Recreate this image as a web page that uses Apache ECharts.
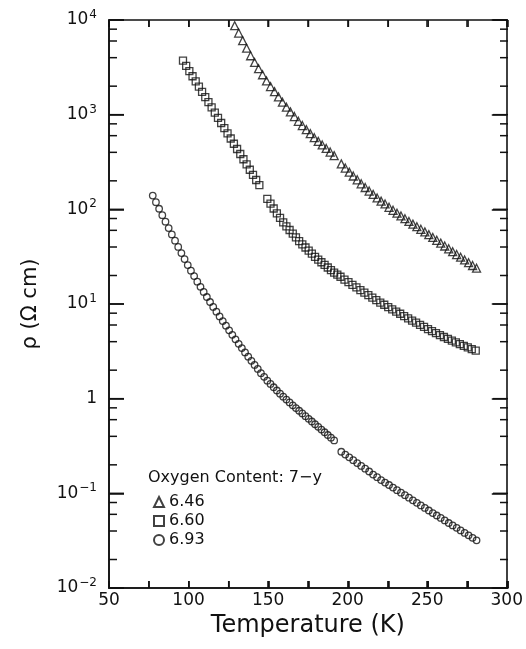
<!DOCTYPE html>
<html><head><meta charset="utf-8">
<script src="https://cdn.jsdelivr.net/npm/echarts@6/dist/echarts.min.js"></script>
<style>html,body{margin:0;padding:0;background:#fff}#c{width:526px;height:649px}</style>
</head><body><div id="c"></div>
<script>
const FONT = 'DejaVu Sans';
const INK = '#111';

// x-axis range and y-axis range
const X_MIN = 50, X_MAX = 300;
const Y_MIN = 0.01, Y_MAX = 10000;

// Oxygen content 6.46 (triangles)
const temp646 = [129, 131.5, 134, 136.5, 139, 141.5, 144, 146.5, 149, 151.5, 154, 156.5, 159, 161.5, 164, 166.5, 169, 171.5, 174, 176.5, 179, 181.5, 184, 186.5, 189, 191.5,
  196, 198.5, 201, 203.5, 206, 208.5, 211, 213.5, 216, 218.5, 221, 223.5, 226, 228.5, 231, 233.5, 236, 238.5, 241, 243.5, 246, 248.5, 251, 253.5, 256, 258.5, 261, 263.5, 266, 268.5, 271, 273.5, 276, 278.5, 281];
const rho646 = [8710, 7280, 6050, 5040, 4190, 3560, 3060, 2640, 2270, 1980, 1750, 1540, 1355, 1200, 1070, 955, 851, 767, 695, 631, 571, 522, 479, 440, 403, 369,
  302, 273, 247, 225, 205, 186, 170, 156, 144, 132, 122, 114, 105, 97.7, 91.0, 85.1, 79.6, 74.5, 69.8, 65.6, 61.5, 57.8, 54.1, 50.5, 47.1, 44.0, 41.0, 38.3, 35.7, 33.3, 31.2, 29.2, 27.3, 25.5, 23.9];

// Oxygen content 6.60 (squares)
const temp660 = [96.5, 98.5, 100.5, 102.5, 104.5, 106.5, 108.5, 110.5, 112.5, 114.5, 116.5, 118.5, 120.5, 122.5, 124.5, 126.5, 128.5, 130.5, 132.5, 134.5, 136.5, 138.5, 140.5, 142.5, 144.5,
  149.5, 151.5, 153.5, 155.5, 157.5, 159.5, 161.5, 163.5, 165.5, 167.5, 169.5, 171.5, 173.5, 175.5, 177.5, 179.5, 181.5, 183.5, 185.5, 187.5, 189.5, 191.5, 193.5, 195.5,
  198, 200.5, 203, 205.5, 208, 210.5, 213, 215.5, 218, 220.5, 223, 225.5, 228, 230.5, 233, 235.5, 238, 240.5, 243, 245.5, 248, 250.5, 253, 255.5, 258, 260.5, 263, 265.5, 268, 270.5, 273, 275.5, 278, 280.5];
const rho660 = [3715, 3273, 2884, 2547, 2244, 1977, 1742, 1535, 1355, 1194, 1052, 927, 817, 721, 635, 560, 493, 434, 384, 338, 298, 262, 231, 204, 180,
  129, 115, 102, 90.8, 81.3, 72.8, 66.2, 60.5, 55.3, 50.6, 46.2, 42.7, 39.5, 36.6, 34.0, 31.5, 29.4, 27.6, 25.9, 24.3, 22.8, 21.5, 20.4, 19.4,
  18.1, 17.0, 15.9, 15.0, 14.0, 13.2, 12.4, 11.7, 11.0, 10.35, 9.82, 9.29, 8.79, 8.32, 7.89, 7.46, 7.06, 6.69, 6.35, 6.03, 5.73, 5.44, 5.18, 4.93, 4.70, 4.48, 4.29, 4.11, 3.94, 3.77, 3.62, 3.48, 3.34, 3.21];

// Oxygen content 6.93 (circles)
const temp693 = [77.5, 79.5, 81.5, 83.5, 85.5, 87.5, 89.5, 91.5, 93.5, 95.5, 97.5, 99.5, 101.5, 103.5, 105.5, 107.5, 109.5, 111.5, 113.5, 115.5, 117.5, 119.5, 121.5, 123.5, 125.5, 127.5, 129.5, 131.5, 133.5, 135.5, 137.5, 139.5, 141.5, 143.5, 145.5, 147.5, 149.5,
  151.5, 153.5, 155.5, 157.5, 159.5, 161.5, 163.5, 165.5, 167.5, 169.5, 171.5, 173.5, 175.5, 177.5, 179.5, 181.5, 183.5, 185.5, 187.5, 189.5, 191.5,
  196, 198.5, 201, 203.5, 206, 208.5, 211, 213.5, 216, 218.5, 221, 223.5, 226, 228.5, 231, 233.5, 236, 238.5, 241, 243.5, 246, 248.5, 251, 253.5, 256, 258.5, 261, 263.5, 266, 268.5, 271, 273.5, 276, 278.5, 281];
const rho693 = [139.6, 118.9, 101.4, 86.7, 74.0, 63.4, 54.3, 46.7, 40.1, 34.5, 29.8, 25.8, 22.5, 19.7, 17.2, 15.2, 13.4, 11.86, 10.5, 9.31, 8.30, 7.40, 6.60, 5.90, 5.27, 4.73, 4.24, 3.80, 3.42, 3.08, 2.78, 2.51, 2.27, 2.06, 1.86, 1.70, 1.55,
  1.43, 1.32, 1.22, 1.13, 1.05, 0.978, 0.912, 0.851, 0.796, 0.745, 0.698, 0.653, 0.612, 0.574, 0.537, 0.504, 0.471, 0.442, 0.413, 0.387, 0.362,
  0.275, 0.257, 0.240, 0.224, 0.209, 0.195, 0.182, 0.170, 0.158, 0.148, 0.138, 0.130, 0.1225, 0.115, 0.108, 0.1016, 0.0957, 0.0900, 0.0843, 0.0794, 0.0746, 0.0702, 0.0659, 0.0619, 0.0583, 0.0550, 0.0518, 0.0486, 0.0458, 0.0432, 0.0406, 0.0382, 0.0360, 0.0339, 0.0319];

// legend labels
const seriesNames = ['6.46', '6.60', '6.93'];
const legendTitle = 'Oxygen Content: 7\u2212y';

// tick positions
const xTickValues = [50, 75, 100, 125, 150, 175, 200, 225, 250, 275, 300];
const yMajorTicks = [0.01, 0.1, 1, 10, 100, 1000, 10000];
const yMinorTicks = [0.02, 0.04, 0.06, 0.08, 0.2, 0.4, 0.6, 0.8, 2, 4, 6, 8, 20, 40, 60, 80, 200, 400, 600, 800, 2000, 4000, 6000, 8000];

const pairs = (t, r) => t.map((v, i) => [v, r[i]]);
const hollow = () => ({ color: 'rgba(0,0,0,0)', borderColor: INK, borderWidth: 1.3 });
const mkLine = () => ({ show: true, lineStyle: { color: INK, width: 1.6 } });
const mkTick = (len) => ({ show: true, inside: true, length: len, lineStyle: { color: INK, width: 1.5 } });
const tickStyle = () => ({ stroke: INK, lineWidth: 1.5 });
const gridRect = { left: 109, right: 18, top: 20, bottom: 61 };

// overlay custom series drawing inward ticks on both sides of the frame
function yTickSeries(values, len) {
  return {
    type: 'custom', coordinateSystem: 'cartesian2d', xAxisIndex: 2, yAxisIndex: 2,
    silent: true, clip: false, z: 6,
    data: values.map(v => [X_MIN, v]),
    renderItem: (params, api) => {
      const v = api.value(1);
      const l = api.coord([X_MIN, v]);
      const r = api.coord([X_MAX, v]);
      return { type: 'group', children: [
        { type: 'line', shape: { x1: l[0], y1: l[1], x2: l[0] + len, y2: l[1] }, style: tickStyle() },
        { type: 'line', shape: { x1: r[0] - len, y1: r[1], x2: r[0], y2: r[1] }, style: tickStyle() }
      ] };
    }
  };
}
function xTickSeries(values, len) {
  return {
    type: 'custom', coordinateSystem: 'cartesian2d', xAxisIndex: 2, yAxisIndex: 2,
    silent: true, clip: false, z: 6,
    data: values.map(v => [v, Y_MIN]),
    renderItem: (params, api) => {
      const x = api.value(0);
      const b = api.coord([x, Y_MIN]);
      const t = api.coord([x, Y_MAX]);
      return { type: 'group', children: [
        { type: 'line', shape: { x1: b[0], y1: b[1], x2: b[0], y2: b[1] - len }, style: tickStyle() },
        { type: 'line', shape: { x1: t[0], y1: t[1], x2: t[0], y2: t[1] + len }, style: tickStyle() }
      ] };
    }
  };
}

const chart = echarts.init(document.getElementById('c'));
chart.setOption({
  animation: false,
  backgroundColor: '#fff',
  grid: [Object.assign({}, gridRect), Object.assign({}, gridRect)],
  title: {
    text: legendTitle, left: 148, top: 470, padding: 0,
    textStyle: { fontFamily: FONT, fontSize: 16, fontWeight: 'normal', color: INK }
  },
  legend: {
    orient: 'vertical', left: 148, top: 489, itemWidth: 10, itemHeight: 10, itemGap: 3,
    textStyle: { fontFamily: FONT, fontSize: 16, color: INK },
    data: seriesNames
  },
  xAxis: [{
    gridIndex: 0, type: 'value', min: X_MIN, max: X_MAX, interval: 25, position: 'bottom',
    axisLine: mkLine(), axisTick: mkTick(7),
    axisLabel: { formatter: v => (v % 50 === 0 ? String(v) : ''), margin: 4, fontFamily: FONT, fontSize: 17, color: INK },
    splitLine: { show: false },
    name: 'Temperature (K)', nameLocation: 'middle', nameGap: 24,
    nameTextStyle: { fontFamily: FONT, fontSize: 24, color: INK }
  }, {
    gridIndex: 0, type: 'value', min: X_MIN, max: X_MAX, interval: 25, position: 'top',
    axisLine: mkLine(), axisTick: mkTick(7),
    axisLabel: { show: false }, splitLine: { show: false }
  }, {
    gridIndex: 1, type: 'value', min: X_MIN, max: X_MAX, interval: 25, position: 'bottom',
    axisLine: mkLine(), axisTick: mkTick(7), axisLabel: { show: false }, splitLine: { show: false }
  }],
  yAxis: [{
    gridIndex: 0, type: 'log', logBase: 10, min: Y_MIN, max: Y_MAX, splitNumber: 6, position: 'left',
    axisLine: mkLine(), axisTick: mkTick(15),
    axisLabel: {
      margin: 12,
      formatter: v => {
        const e = Math.round(Math.log10(v));
        return e === 0 ? '{b|1}' : '{b|10}{s|' + (e < 0 ? '\u2212' : '') + Math.abs(e) + '}';
      },
      rich: {
        b: { fontFamily: FONT, fontSize: 17, color: INK },
        s: { fontFamily: FONT, fontSize: 12, color: INK, padding: [0, 0, 10, 1] }
      }
    },
    splitLine: { show: false },
    name: '\u03C1 (\u03A9 cm)', nameLocation: 'middle', nameGap: 68,
    nameTextStyle: { fontFamily: FONT, fontSize: 21, color: INK }
  }, {
    gridIndex: 0, type: 'log', logBase: 10, min: Y_MIN, max: Y_MAX, splitNumber: 6, position: 'right',
    axisLine: mkLine(), axisTick: mkTick(15),
    axisLabel: { show: false }, splitLine: { show: false }
  }, {
    gridIndex: 1, type: 'log', logBase: 10, min: Y_MIN, max: Y_MAX, splitNumber: 6, position: 'left',
    axisLine: mkLine(), axisTick: mkTick(15), axisLabel: { show: false }, splitLine: { show: false }
  }],
  series: [{
    name: seriesNames[0], type: 'scatter', symbol: 'triangle', symbolSize: 8,
    xAxisIndex: 0, yAxisIndex: 0, itemStyle: hollow(), data: pairs(temp646, rho646)
  }, {
    name: seriesNames[1], type: 'scatter', symbol: 'rect', symbolSize: 7,
    xAxisIndex: 0, yAxisIndex: 0, itemStyle: hollow(), data: pairs(temp660, rho660)
  }, {
    name: seriesNames[2], type: 'scatter', symbol: 'circle', symbolSize: 6.5,
    xAxisIndex: 0, yAxisIndex: 0, itemStyle: hollow(), data: pairs(temp693, rho693)
  },
  xTickSeries(xTickValues, 7),
  yTickSeries(yMajorTicks, 15),
  yTickSeries(yMinorTicks, 8)]
});
</script></body></html>
